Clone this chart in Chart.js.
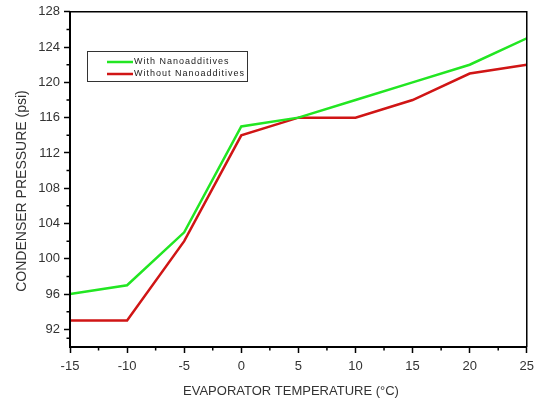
<!DOCTYPE html>
<html><head><meta charset="utf-8">
<script src="https://cdn.jsdelivr.net/npm/chart.js@4"></script>
<style>html,body{margin:0;padding:0;background:#fff}#wrap{width:540px;height:402px}</style>
</head><body><div id="wrap"><canvas id="c" width="540" height="402"></canvas></div>
<script>
const temps = [-15, -10, -5, 0, 5, 10, 15, 20, 25];
const withNano = [96, 97, 103, 115, 116, 118, 120, 122, 125];
const withoutNano = [93, 93, 102, 114, 116, 116, 118, 121, 122];
const seriesNames = ['With Nanoadditives', 'Without Nanoadditives'];
const seriesColors = ['#22e622', '#d01515'];
const yTicks = [92, 96, 100, 104, 108, 112, 116, 120, 124, 128];
const xTicks = [-15, -10, -5, 0, 5, 10, 15, 20, 25];
const xTitle = 'EVAPORATOR TEMPERATURE (°C)';
const yTitle = 'CONDENSER PRESSURE (psi)';
const FONT = '"Liberation Sans", Arial, sans-serif';

const frame = {
  id: 'frame',
  afterDraw(chart) {
    const {ctx, chartArea: a, scales} = chart;
    ctx.save();
    ctx.strokeStyle = '#000';
    ctx.lineWidth = 1.5;
    ctx.beginPath();
    ctx.moveTo(a.left, a.top); ctx.lineTo(a.right, a.top); ctx.lineTo(a.right, a.bottom);
    ctx.stroke();
    ctx.lineWidth = 2;
    ctx.beginPath();
    ctx.moveTo(a.left, a.top); ctx.lineTo(a.left, a.bottom); ctx.lineTo(a.right, a.bottom);
    ctx.stroke();
    // minor ticks
    ctx.lineWidth = 1.5;
    ctx.beginPath();
    for (let i = 0; i < xTicks.length - 1; i++) {
      const v = (xTicks[i] + xTicks[i+1]) / 2;
      const px = scales.x.getPixelForValue(v);
      ctx.moveTo(px, a.bottom); ctx.lineTo(px, a.bottom + 3.5);
    }
    const ym = [90].concat(yTicks);
    for (let i = 0; i < ym.length - 1; i++) {
      const v = (ym[i] + ym[i+1]) / 2;
      const py = scales.y.getPixelForValue(v);
      ctx.moveTo(a.left, py); ctx.lineTo(a.left - 3.5, py);
    }
    ctx.stroke();
    // axis titles
    ctx.fillStyle = '#333';
    ctx.textAlign = 'center';
    ctx.textBaseline = 'middle';
    ctx.font = '13px ' + FONT;
    ctx.fillText(xTitle, 291, 391);
    ctx.save();
    ctx.translate(22, 191);
    ctx.rotate(-Math.PI / 2);
    ctx.font = '14px ' + FONT;
    ctx.fillText(yTitle, 0, 0);
    ctx.restore();
    // legend
    const bx = 87, by = 51, bw = 160, bh = 30;
    ctx.lineWidth = 1;
    ctx.strokeStyle = '#333';
    ctx.fillStyle = '#fff';
    ctx.fillRect(bx, by, bw, bh);
    ctx.strokeRect(bx + 0.5, by + 0.5, bw, bh);
    ctx.font = '9px ' + FONT;
    ctx.letterSpacing = '1px';
    ctx.textBaseline = 'middle';
    ctx.textAlign = 'left';
    seriesNames.forEach((n, i) => {
      const y = 62 + i * 12;
      ctx.strokeStyle = seriesColors[i];
      ctx.lineWidth = 2.5;
      ctx.beginPath(); ctx.moveTo(107, y); ctx.lineTo(133, y); ctx.stroke();
      ctx.fillStyle = '#222';
      ctx.fillText(n, 134, y);
    });
    ctx.restore();
  }
};

new Chart(document.getElementById('c'), {
  type: 'line',
  data: {
    datasets: [
      {label: seriesNames[0], data: temps.map((t, i) => ({x: t, y: withNano[i]})), borderColor: seriesColors[0], borderWidth: 2.5, pointRadius: 0, tension: 0, fill: false},
      {label: seriesNames[1], data: temps.map((t, i) => ({x: t, y: withoutNano[i]})), borderColor: seriesColors[1], borderWidth: 2.5, pointRadius: 0, tension: 0, fill: false}
    ]
  },
  options: {
    responsive: false,
    animation: false,
    layout: {padding: {top: 10, right: 11, left: 0, bottom: 0}},
    plugins: {legend: {display: false}, tooltip: {enabled: false}},
    scales: {
      x: {
        type: 'linear', min: -15, max: 25,
        afterBuildTicks(s) { s.ticks = xTicks.map(v => ({value: v})); },
        afterFit(s) { s.height = 55; },
        grid: {drawOnChartArea: false, drawTicks: true, tickLength: 6, tickWidth: 1.5, tickColor: '#000'},
        border: {display: false},
        ticks: {color: '#333', font: {family: FONT, size: 13}, padding: 6, maxRotation: 0},
        title: {display: false, text: xTitle}
      },
      y: {
        type: 'linear', min: 90, max: 128,
        afterBuildTicks(s) { s.ticks = yTicks.map(v => ({value: v})); },
        afterFit(s) { s.width = 70; },
        grid: {drawOnChartArea: false, drawTicks: true, tickLength: 6, tickWidth: 1.5, tickColor: '#000'},
        border: {display: false},
        ticks: {color: '#333', font: {family: FONT, size: 13}, padding: 4},
        title: {display: false, text: yTitle}
      }
    }
  },
  plugins: [frame]
});
</script></body></html>
